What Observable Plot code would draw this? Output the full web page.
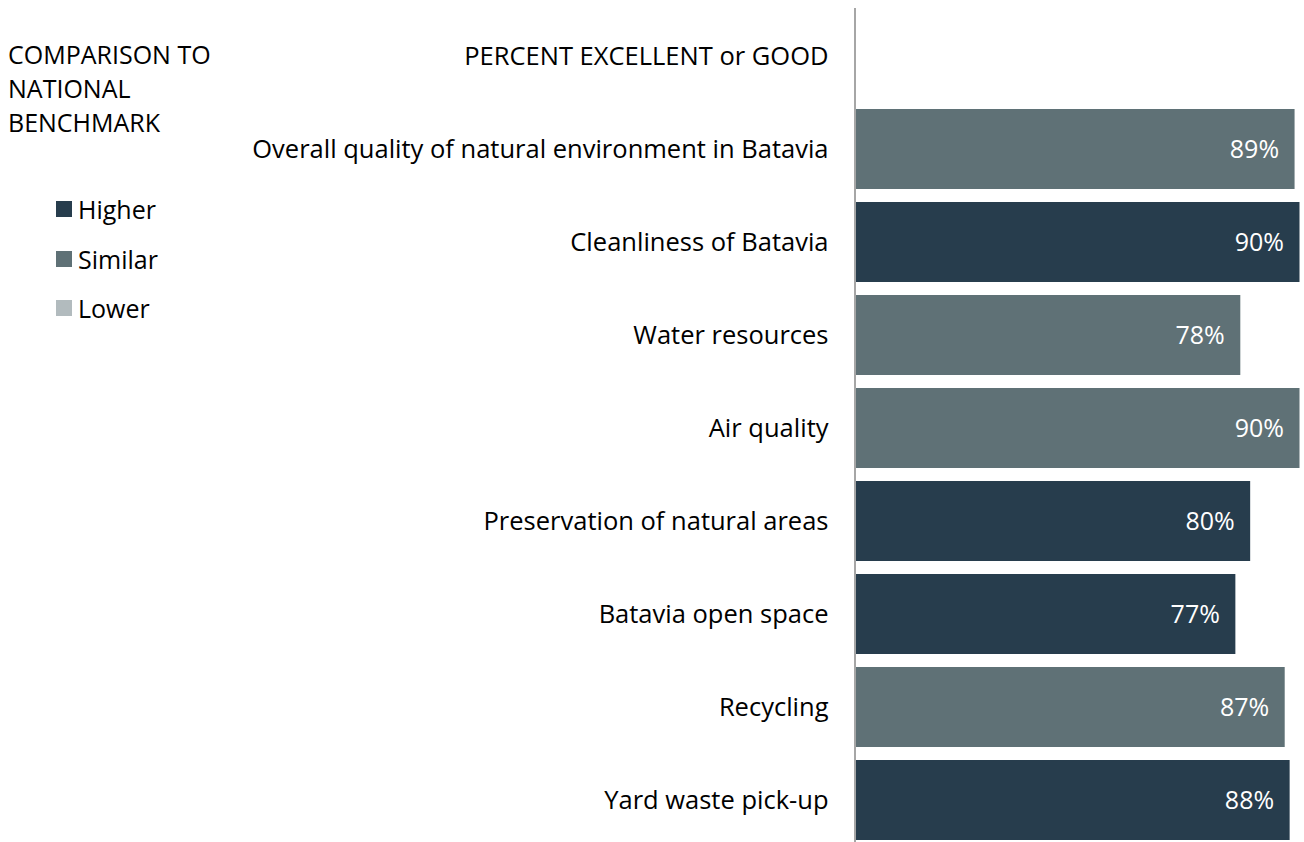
<!DOCTYPE html>
<html>
<head>
<meta charset="utf-8">
<script src="https://cdn.jsdelivr.net/npm/d3@7"></script>
<script src="https://cdn.jsdelivr.net/npm/@observablehq/plot@0.6"></script>
<style>
  html, body { margin: 0; padding: 0; background: #fff; }
  #wrap { position: relative; width: 1304px; height: 842px; overflow: hidden; font-family: "Open Sans", Lato, sans-serif; color: #000; }
  #chart { position: absolute; left: 0; top: 0; }
  .legend-title { position: absolute; left: 8px; top: 37px; font-size: 25px; line-height: 34px; }
  .legend-item { position: absolute; left: 56px; height: 34px; font-size: 25px; line-height: 34px; }
  .legend-item .sw { position: absolute; left: 0; top: 9px; width: 16px; height: 16px; }
  .legend-item .lb { position: absolute; left: 22px; top: 0; white-space: nowrap; }
</style>
</head>
<body>
<div id="wrap">
  <div id="chart"></div>
  <div class="legend-title">COMPARISON TO<br>NATIONAL<br>BENCHMARK</div>
  <div id="legend"></div>
</div>
<script>
const header = "PERCENT EXCELLENT or GOOD";
const categories = [
  "Overall quality of natural environment in Batavia",
  "Cleanliness of Batavia",
  "Water resources",
  "Air quality",
  "Preservation of natural areas",
  "Batavia open space",
  "Recycling",
  "Yard waste pick-up"
];
const values = [89, 90, 78, 90, 80, 77, 87, 88];
const comparisons = ["Similar", "Higher", "Similar", "Similar", "Higher", "Higher", "Similar", "Higher"];
const legendLabels = ["Higher", "Similar", "Lower"];
const legendColors = ["#273d4d", "#5f7176", "#b2bbbe"];

const data = categories.map((c, i) => ({category: c, value: values[i], comparison: comparisons[i]}));

const chart = Plot.plot({
  width: 1304,
  height: 842,
  marginTop: 8,
  marginBottom: 0,
  marginLeft: 855,
  marginRight: 4,
  style: {fontFamily: "'Open Sans', Lato, sans-serif", fontSize: "25px", color: "#000", background: "transparent"},
  x: {domain: [0, 90], range: [855.5, 1299.5], axis: null},
  y: {domain: [header, ...categories], range: [7.5, 848.9], paddingInner: 0.137, paddingOuter: 0.0685, label: null, axis: null},
  color: {domain: legendLabels, range: legendColors},
  marks: [
    Plot.barX(data, {x: "value", y: "category", fill: "comparison"}),
    Plot.ruleX([0], {stroke: "#a6a6a6", strokeWidth: 2, dx: -1}),
    Plot.text(data, {x: "value", y: "category", text: d => `${d.value}%`, textAnchor: "end", dx: -16, fill: "white", fontSize: 25}),
    Plot.axisY({tickSize: 0, tickPadding: 27, fontSize: 25.5, label: null})
  ]
});
document.getElementById("chart").appendChild(chart);

const legendCenters = [210, 260, 309];
const legend = document.getElementById("legend");
legendLabels.forEach((l, i) => {
  const item = document.createElement("div");
  item.className = "legend-item";
  item.style.top = (legendCenters[i] - 17.7) + "px";
  const sw = document.createElement("div");
  sw.className = "sw";
  sw.style.background = legendColors[i];
  const lb = document.createElement("div");
  lb.className = "lb";
  lb.textContent = l;
  item.appendChild(sw);
  item.appendChild(lb);
  legend.appendChild(item);
});
</script>
</body>
</html>
